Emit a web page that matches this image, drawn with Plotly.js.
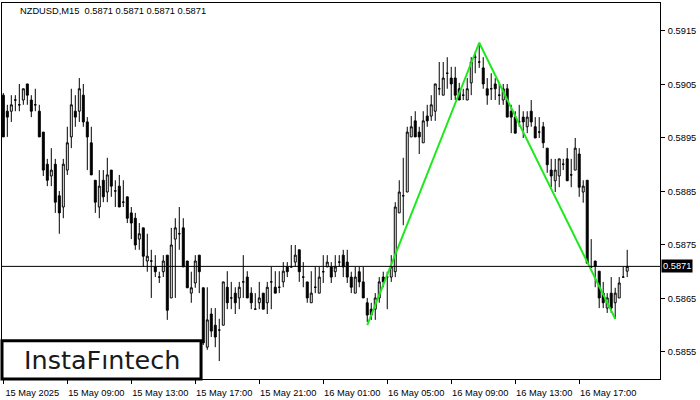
<!DOCTYPE html>
<html>
<head>
<meta charset="utf-8">
<script src="https://cdn.plot.ly/plotly-3.0.1.min.js"></script>
<style>
html,body{margin:0;padding:0;background:#fff;}
#chart{width:700px;height:400px;}
</style>
</head>
<body>
<div id="chart"></div>
<script>
// NZDUSD M15 candles, first bar 15 May 2025 05:00, one bar every 15 minutes
const startBar = "2025-05-15 05:00";
const barMinutes = 15;

const openP = [
0.59030,0.59000,0.59000,0.59021,0.59012,0.59021,0.59051,0.59021,0.59012,0.59000,
0.58961,0.58901,0.58879,0.58901,0.58842,0.58821,0.58890,0.58952,0.59000,0.59000,
0.59030,0.58980,0.58941,0.58871,0.58821,0.58871,0.58849,0.58890,0.58851,0.58860,
0.58830,0.58840,0.58810,0.58800,0.58761,0.58782,0.58720,0.58720,0.58709,0.58690,
0.58700,0.58731,0.58651,0.58761,0.58771,0.58782,0.58720,0.58660,0.58679,0.58731,
0.58670,0.58559,0.58621,0.58600,0.58591,0.58600,0.58671,0.58651,0.58660,0.58651,
0.58681,0.58690,0.58660,0.58630,0.58642,0.58660,0.58642,0.58681,0.58671,0.58671,
0.58681,0.58709,0.58709,0.58718,0.58741,0.58690,0.58681,0.58642,0.58671,0.58660,
0.58700,0.58709,0.58709,0.58700,0.58718,0.58731,0.58718,0.58690,0.58660,0.58700,
0.58681,0.58642,0.58630,0.58630,0.58651,0.58690,0.58690,0.58690,0.58700,0.58810,
0.58842,0.58849,0.58952,0.58982,0.58961,0.58941,0.58991,0.58991,0.59000,0.59042,
0.59030,0.59071,0.59062,0.59062,0.59042,0.59030,0.59021,0.59053,0.59101,0.59092,
0.59081,0.59042,0.59042,0.59051,0.59030,0.59021,0.59042,0.59000,0.58989,0.58980,
0.58989,0.58971,0.59000,0.58971,0.58961,0.58971,0.58931,0.58890,0.58870,0.58879,
0.58901,0.58911,0.58881,0.58890,0.58920,0.58849,0.58871,0.58709,0.58720,0.58701,
0.58660,0.58632,0.58660,0.58642,0.58651,0.58690,0.58701
];
const highP = [
0.59034,0.59012,0.59030,0.59030,0.59051,0.59042,0.59051,0.59030,0.59042,0.59012,
0.58961,0.58911,0.58931,0.58911,0.58851,0.58911,0.58971,0.59042,0.59030,0.59062,
0.59051,0.58989,0.58971,0.58871,0.58890,0.58890,0.58913,0.58890,0.58871,0.58881,
0.58871,0.58840,0.58821,0.58810,0.58791,0.58782,0.58771,0.58741,0.58731,0.58700,
0.58731,0.58731,0.58782,0.58800,0.58821,0.58800,0.58720,0.58700,0.58731,0.58731,
0.58670,0.58671,0.58632,0.58632,0.58612,0.58681,0.58701,0.58681,0.58671,0.58681,
0.58731,0.58701,0.58671,0.58660,0.58681,0.58660,0.58681,0.58709,0.58701,0.58701,
0.58718,0.58718,0.58750,0.58750,0.58741,0.58718,0.58681,0.58701,0.58709,0.58709,
0.58731,0.58731,0.58718,0.58731,0.58731,0.58741,0.58741,0.58700,0.58709,0.58709,
0.58709,0.58651,0.58642,0.58660,0.58690,0.58700,0.58700,0.58731,0.58830,0.58871,
0.58913,0.58971,0.58991,0.59000,0.58971,0.59000,0.59012,0.59030,0.59051,0.59092,
0.59092,0.59101,0.59083,0.59083,0.59053,0.59042,0.59062,0.59101,0.59111,0.59128,
0.59101,0.59062,0.59071,0.59062,0.59051,0.59051,0.59051,0.59012,0.59000,0.59012,
0.59000,0.59000,0.59021,0.58989,0.58989,0.58980,0.58931,0.58911,0.58911,0.58911,
0.58911,0.58931,0.58911,0.58950,0.58931,0.58871,0.58871,0.58761,0.58720,0.58701,
0.58681,0.58660,0.58690,0.58670,0.58690,0.58709,0.58741
];
const lowP = [
0.58952,0.58952,0.58980,0.59000,0.59000,0.59012,0.59012,0.58989,0.59000,0.58952,
0.58879,0.58860,0.58860,0.58810,0.58771,0.58800,0.58881,0.58931,0.58971,0.58980,
0.58971,0.58890,0.58881,0.58810,0.58800,0.58830,0.58830,0.58840,0.58821,0.58821,
0.58821,0.58791,0.58761,0.58741,0.58741,0.58709,0.58700,0.58651,0.58690,0.58679,
0.58690,0.58610,0.58651,0.58651,0.58741,0.58709,0.58670,0.58642,0.58670,0.58660,
0.58563,0.58554,0.58578,0.58559,0.58533,0.58600,0.58630,0.58630,0.58621,0.58630,
0.58651,0.58651,0.58630,0.58630,0.58630,0.58630,0.58621,0.58630,0.58660,0.58660,
0.58671,0.58690,0.58709,0.58709,0.58681,0.58671,0.58642,0.58642,0.58660,0.58660,
0.58679,0.58709,0.58679,0.58690,0.58709,0.58690,0.58679,0.58660,0.58660,0.58671,
0.58651,0.58606,0.58610,0.58610,0.58642,0.58671,0.58630,0.58681,0.58690,0.58810,
0.58787,0.58849,0.58952,0.58952,0.58920,0.58941,0.58971,0.58982,0.58982,0.59030,
0.59030,0.59042,0.59021,0.59021,0.59021,0.59021,0.59021,0.59030,0.59071,0.59081,
0.59042,0.59012,0.59021,0.59021,0.59012,0.59012,0.58989,0.58959,0.58959,0.58971,
0.58950,0.58959,0.58971,0.58950,0.58950,0.58931,0.58885,0.58858,0.58849,0.58858,
0.58890,0.58870,0.58858,0.58890,0.58840,0.58829,0.58716,0.58707,0.58671,0.58632,
0.58632,0.58623,0.58623,0.58612,0.58651,0.58690,0.58690
];
const closeP = [
0.58952,0.58989,0.59012,0.59021,0.59012,0.59042,0.59030,0.59000,0.59012,0.58952,
0.58890,0.58871,0.58890,0.58830,0.58810,0.58901,0.58941,0.59012,0.58989,0.59042,
0.58980,0.58952,0.58881,0.58830,0.58860,0.58840,0.58881,0.58860,0.58851,0.58821,
0.58830,0.58800,0.58791,0.58750,0.58771,0.58729,0.58729,0.58720,0.58700,0.58690,
0.58720,0.58628,0.58750,0.58782,0.58771,0.58709,0.58670,0.58670,0.58720,0.58700,
0.58567,0.58610,0.58589,0.58578,0.58591,0.58681,0.58642,0.58651,0.58642,0.58671,
0.58681,0.58651,0.58642,0.58630,0.58651,0.58630,0.58671,0.58681,0.58660,0.58671,
0.58701,0.58700,0.58709,0.58731,0.58700,0.58690,0.58651,0.58660,0.58671,0.58690,
0.58700,0.58718,0.58690,0.58709,0.58718,0.58709,0.58690,0.58671,0.58690,0.58681,
0.58651,0.58619,0.58619,0.58651,0.58681,0.58681,0.58690,0.58709,0.58821,0.58849,
0.58842,0.58961,0.58971,0.58952,0.58952,0.58982,0.58982,0.59012,0.59051,0.59042,
0.59062,0.59071,0.59051,0.59030,0.59021,0.59030,0.59042,0.59092,0.59101,0.59092,
0.59051,0.59030,0.59042,0.59042,0.59030,0.59042,0.58989,0.58989,0.58959,0.58980,
0.58980,0.58989,0.58980,0.58950,0.58961,0.58941,0.58900,0.58879,0.58890,0.58911,
0.58901,0.58870,0.58881,0.58931,0.58858,0.58860,0.58716,0.58709,0.58710,0.58651,
0.58642,0.58651,0.58632,0.58660,0.58679,0.58690,0.58710
];

// pattern (double top) line: bar index and price
const patternBars = [91, 119, 153];
const patternPrices = [0.58600, 0.59128, 0.58612];

const currentPrice = 0.5871;
const titleText = "NZDUSD,M15  0.5871 0.5871 0.5871 0.5871";
const logoText = "InstaFıntech";

const yTickVals = [0.5855, 0.5865, 0.5875, 0.5885, 0.5895, 0.5905, 0.5915];
const yTickText = ["0.5855", "0.5865", "0.5875", "0.5885", "0.5895", "0.5905", "0.5915"];
const xTickVals = ["2025-05-15 05:00","2025-05-15 09:00","2025-05-15 13:00","2025-05-15 17:00","2025-05-15 21:00",
                   "2025-05-16 01:00","2025-05-16 05:00","2025-05-16 09:00","2025-05-16 13:00","2025-05-16 17:00"];
const xTickText = ["15 May 2025","15 May 09:00","15 May 13:00","15 May 17:00","15 May 21:00",
                   "16 May 01:00","16 May 05:00","16 May 09:00","16 May 13:00","16 May 17:00"];

function fmt(ms){ return new Date(ms).toISOString().slice(0,19).replace('T',' '); }
const base = Date.parse(startBar.replace(' ','T') + ":00Z");
const times = openP.map((_, i) => fmt(base + i*barMinutes*60000));
const patternTimes = patternBars.map(i => times[i]);

const xRange = [fmt(base - 0.33*barMinutes*60000), fmt(base + 164.2*barMinutes*60000)];

const F = "Liberation Sans, Arial, sans-serif";

const traces = [
  {
    type: 'candlestick',
    x: times, open: openP, high: highP, low: lowP, close: closeP,
    increasing: {line: {color: '#000000', width: 1}, fillcolor: '#ffffff'},
    decreasing: {line: {color: '#000000', width: 1}, fillcolor: '#000000'},
    whiskerwidth: 0,
    hoverinfo: 'skip',
    showlegend: false
  },
  {
    type: 'scatter', mode: 'lines',
    x: patternTimes, y: patternPrices,
    line: {color: '#1ee81e', width: 2},
    hoverinfo: 'skip', showlegend: false
  }
];

const layout = {
  width: 700, height: 400,
  margin: {l: 2, r: 40, t: 3, b: 21},
  paper_bgcolor: '#ffffff', plot_bgcolor: '#ffffff',
  showlegend: false, hovermode: false,
  font: {family: F, size: 9.3, color: '#000000'},
  xaxis: {
    type: 'date', range: xRange,
    rangeslider: {visible: false},
    showgrid: false, zeroline: false,
    showline: true, linecolor: '#000000', linewidth: 1, mirror: true,
    tickmode: 'array', tickvals: xTickVals, ticktext: xTickText,
    ticks: 'outside', ticklen: 4, tickcolor: '#000000', tickwidth: 1,
    ticklabelshift: 29, ticklabelstandoff: 1,
    tickfont: {family: F, size: 9.3, color: '#000000'}
  },
  yaxis: {
    side: 'right', range: [0.584995, 0.592023],
    showgrid: false, zeroline: false,
    showline: true, linecolor: '#000000', linewidth: 1, mirror: true,
    tickmode: 'array', tickvals: yTickVals, ticktext: yTickText,
    ticks: 'outside', ticklen: 4, tickcolor: '#000000', tickwidth: 1,
    ticklabelstandoff: 1,
    tickfont: {family: F, size: 9.3, color: '#000000'}
  },
  shapes: [
    {type: 'line', xref: 'paper', x0: 0, x1: 1, yref: 'y', y0: currentPrice, y1: currentPrice,
     line: {color: '#000000', width: 1}},
    {type: 'rect', xref: 'paper', yref: 'paper', x0: 0, x1: 0.3025, y0: 0, y1: 0.102,
     fillcolor: '#ffffff', line: {color: '#000000', width: 3}, layer: 'above'}
  ],
  annotations: [
    {xref: 'paper', yref: 'paper', x: 0.0243, y: 0.979, xanchor: 'left', yanchor: 'middle',
     text: titleText, showarrow: false, font: {family: F, size: 9.3, color: '#000000'}},
    {xref: 'paper', yref: 'paper', x: 0.152, y: 0.05, xanchor: 'center', yanchor: 'middle',
     text: logoText, showarrow: false, font: {family: 'DejaVu Sans, sans-serif', size: 25.5, color: '#1a1a1a'}},
    {xref: 'paper', yref: 'y', x: 1, y: currentPrice, xanchor: 'left', yanchor: 'middle', xshift: 1,
     text: currentPrice.toFixed(4), showarrow: false, bgcolor: '#000000', borderpad: 1,
     font: {family: F, size: 9.3, color: '#ffffff'}}
  ]
};

Plotly.newPlot('chart', traces, layout, {displayModeBar: false, staticPlot: true});
</script>
</body>
</html>
